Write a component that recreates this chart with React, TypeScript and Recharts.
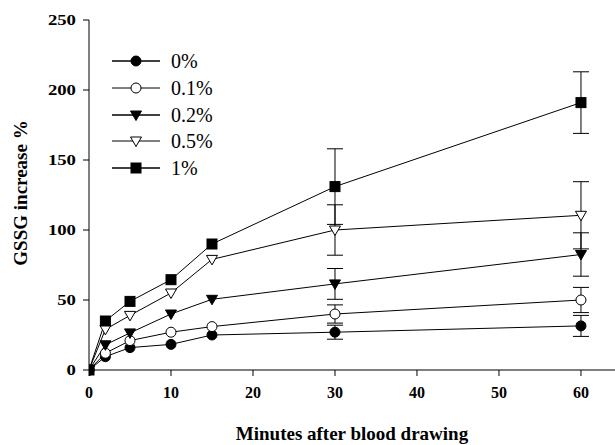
import React from "react"
import { LineChart, Line, XAxis, YAxis, ErrorBar } from "recharts"

// minutes after blood drawing
const times = [0, 2, 5, 10, 15, 30, 60]

// GSSG increase % per concentration, with error bar half-widths
const pct0 = [0, 9.5, 16, 18.3, 25, 27, 31.5]
const err0 = [0, 0, 0, 0, 0, 5, 7.5]
const pct01 = [0, 12, 21, 27, 31, 40, 50]
const err01 = [0, 0, 0, 0, 0, 6.5, 9]
const pct02 = [0, 18, 26.5, 40, 50.5, 61.5, 82.5]
const err02 = [0, 0, 0, 0, 0, 11, 15.5]
const pct05 = [0, 29, 39, 55, 79, 100, 110.5]
const err05 = [0, 0, 0, 0, 0, 18, 24]
const pct1 = [0, 35, 49, 64.5, 90, 131, 191]
const err1 = [0, 0, 0, 0, 0, 27, 22]

const xTicks = [0, 10, 20, 30, 40, 50, 60]
const yTicks = [0, 50, 100, 150, 200, 250]

const seriesNames = ["0%", "0.1%", "0.2%", "0.5%", "1%"]
const seriesShapes = ["circle", "openCircle", "triangle", "openTriangle", "square"]

const data = times.map((t, i) => ({
  t,
  s0: pct0[i], e0: err0[i],
  s1: pct01[i], e1: err01[i],
  s2: pct02[i], e2: err02[i],
  s3: pct05[i], e3: err05[i],
  s4: pct1[i], e4: err1[i],
}))

const FONT = "'Liberation Serif', 'Times New Roman', serif"

function Marker({ shape, cx, cy }: { shape: string; cx: number; cy: number }) {
  const r = 5
  if (shape === "circle" || shape === "openCircle") {
    return <circle cx={cx} cy={cy} r={r} fill={shape === "circle" ? "#000" : "#fff"} stroke="#000" strokeWidth={1} />
  }
  if (shape === "triangle" || shape === "openTriangle") {
    const pts = `${cx - 5.5},${cy - 4} ${cx + 5.5},${cy - 4} ${cx},${cy + 5.5}`
    return <polygon points={pts} fill={shape === "triangle" ? "#000" : "#fff"} stroke="#000" strokeWidth={1} />
  }
  return <rect x={cx - 5} y={cy - 5} width={10} height={10} fill="#000" stroke="#000" />
}

const makeDot = (shape: string) => (props: any) => (
  <Marker key={`${shape}-${props.index}`} shape={shape} cx={props.cx} cy={props.cy} />
)

// y tick labels in the scan are a bit wider than normal
function YTick({ x, y, payload }: any) {
  return (
    <text
      x={x}
      y={y}
      dy={5}
      textAnchor="end"
      transform={`translate(${x} 0) scale(1.25 1) translate(${-x} 0)`}
      fontFamily={FONT}
      fontWeight="bold"
      fontSize={15}
      fill="#000"
    >
      {payload.value}
    </text>
  )
}

function LegendBox() {
  return (
    <div style={{ fontFamily: FONT }}>
      {seriesNames.map((name, i) => (
        <div key={name} style={{ display: "flex", alignItems: "center", height: 26.7 }}>
          <svg width={50} height={16}>
            <line x1={1} y1={8} x2={49} y2={8} stroke="#000" strokeWidth={i % 2 === 0 ? 1.6 : 1} />
            <Marker shape={seriesShapes[i]} cx={25} cy={8} />
          </svg>
          <span style={{ fontSize: 20, marginLeft: 10, lineHeight: "20px" }}>{name}</span>
        </div>
      ))}
    </div>
  )
}

export default function App() {
  const tickStyle = { fontFamily: FONT, fontWeight: "bold", fontSize: 16, fill: "#000" }
  return (
    <div style={{ position: "absolute", left: 0, top: 0, width: 615, height: 445, background: "#fff" }}>
      <LineChart width={615} height={445} data={data} margin={{ top: 20, right: 0, bottom: 45, left: 0 }}>
        <XAxis
          dataKey="t"
          type="number"
          domain={[0, 64.15]}
          allowDataOverflow
          ticks={xTicks}
          tick={tickStyle}
          tickSize={6}
          tickMargin={11}
          height={30}
          stroke="#000"
          label={{
            content: () => (
              <text x={352} y={440} textAnchor="middle" fontFamily={FONT} fontWeight="bold" fontSize={19} fill="#000">
                Minutes after blood drawing
              </text>
            ),
          }}
        />
        <YAxis
          type="number"
          domain={[0, 250]}
          ticks={yTicks}
          tick={<YTick />}
          tickSize={6}
          tickMargin={7}
          width={89}
          stroke="#000"
          label={{
            content: () => (
              <text
                x={27}
                y={193}
                transform="rotate(-90 27 193)"
                textAnchor="middle"
                fontFamily={FONT}
                fontWeight="bold"
                fontSize={19}
                fill="#000"
              >
                GSSG increase %
              </text>
            ),
          }}
        />
        {["s0", "s1", "s2", "s3", "s4"].map((key, i) => (
          <Line
            key={key}
            dataKey={key}
            name={seriesNames[i]}
            stroke="#000"
            strokeWidth={1}
            dot={makeDot(seriesShapes[i])}
            activeDot={false}
            isAnimationActive={false}
          >
            <ErrorBar dataKey={`e${i}`} width={8} stroke="#000" strokeWidth={1} direction="y" />
          </Line>
        ))}
      </LineChart>
      <div style={{ position: "absolute", left: 111, top: 48 }}>
        <LegendBox />
      </div>
    </div>
  )
}
